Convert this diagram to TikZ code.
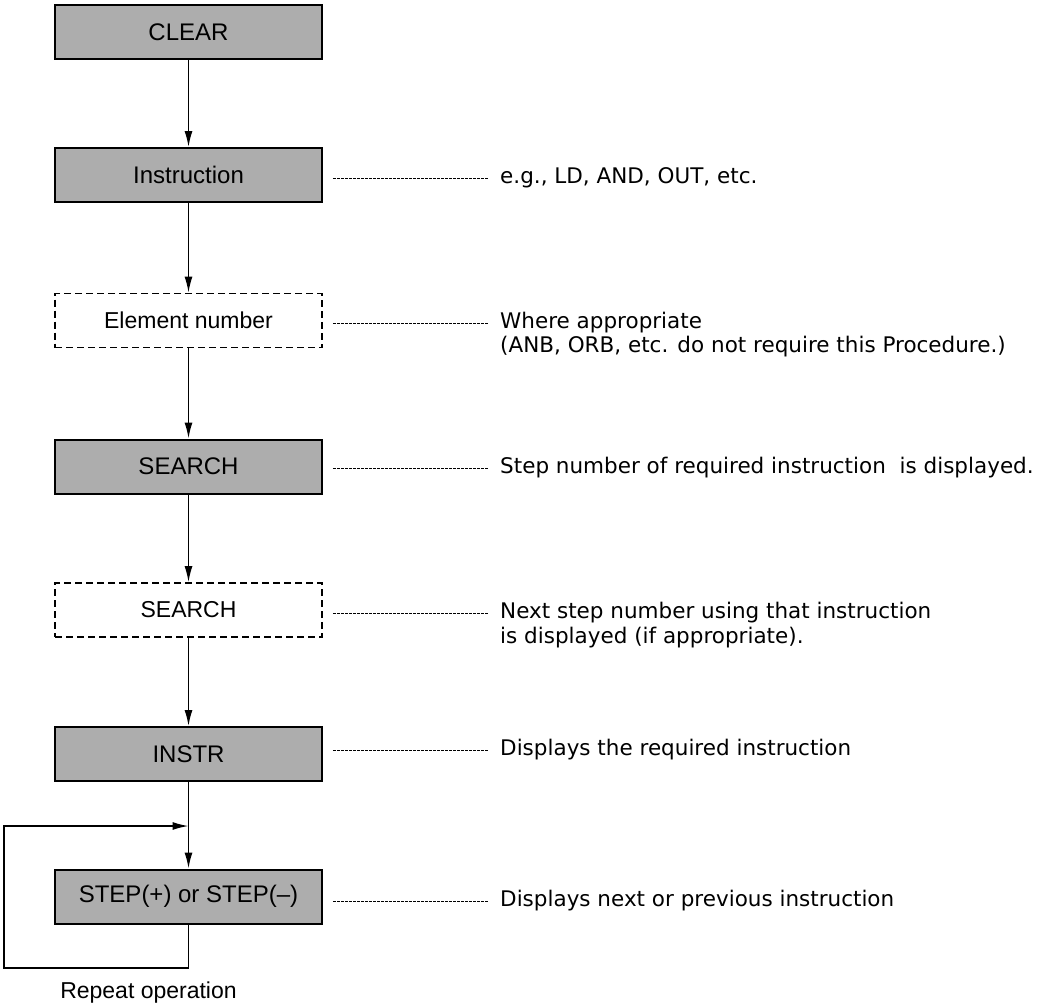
\documentclass[tikz,border=0pt]{standalone}
\usepackage{fontspec}
\setmainfont{Liberation Sans}
\newfontfamily\labfont{DejaVu Sans}
\usetikzlibrary{arrows.meta}
\begin{document}
\begin{tikzpicture}[x=1pt,y=-1pt,
  solidbox/.style={draw=black,line width=2pt,fill=black!32,minimum width=267pt,minimum height=54pt,inner sep=0pt,font=\fontsize{24}{28}\selectfont},
  dashbox/.style={draw=black,line width=1.7pt,dash pattern=on 7pt off 4pt,minimum width=267pt,minimum height=54pt,inner sep=0pt,font=\fontsize{23}{28}\selectfont},
  conn/.style={line width=1.5pt,-{Latex[length=16pt,width=8pt]}},
  leader/.style={line width=1pt,dash pattern=on 2.5pt off 1.5pt},
  lab/.style={anchor=west,inner sep=0pt,font=\labfont\fontsize{21.5}{25}\selectfont}]
\useasboundingbox (0,0) rectangle (1040,1006);
\node[solidbox] (clear) at (188.5,32.5) {CLEAR};
\node[solidbox] (instr1) at (188.5,175) {Instruction};
\node[dashbox] (elem) at (188.5,320.5) {Element number};
\node[solidbox] (search1) at (188.5,466.5) {SEARCH};
\node[dashbox] (search2) at (188.5,610) {SEARCH};
\node[solidbox] (instr2) at (188.5,754) {INSTR};
\node[solidbox] (stepb) at (188.5,896.5) {STEP(+) or STEP(--)};
\node[anchor=center,inner sep=0pt,font=\fontsize{23}{28}\selectfont] (rep) at (148.5,993) {Repeat operation};

\node[lab] (l1) at (500,178) {e.g., LD, AND, OUT, etc.};
\node[lab] (l2) at (500,323) {Where appropriate};
\node[lab] (l2b) at (500,347) {(ANB, ORB, etc. do not require this Procedure.)};
\node[lab] (l3) at (500,468) {Step number of required instruction\ \ is displayed.};
\node[lab] (l4) at (500,613) {Next step number using that instruction};
\node[lab] (l4b) at (500,638) {is displayed (if appropriate).};
\node[lab] (l5) at (500,750) {Displays the required instruction};
\node[lab] (l6) at (500,901) {Displays next or previous instruction};

\draw[conn] (clear) -- (instr1);
\draw[conn] (instr1) -- (elem);
\draw[conn] (elem) -- (search1);
\draw[conn] (search1) -- (search2);
\draw[conn] (search2) -- (instr2);
\draw[conn] (instr2) -- (stepb);
\coordinate (loopjoin) at (instr2.south |- 0,826);
\coordinate (loopcorner) at (4,968);
\draw[conn] (stepb.south) |- (loopcorner) |- (loopjoin);

\draw[leader] (333,178) -- ([xshift=-12pt]l1.west);
\draw[leader] (333,323) -- ([xshift=-12pt]l2.west);
\draw[leader] (333,468) -- ([xshift=-12pt]l3.west);
\draw[leader] (333,613) -- ([xshift=-12pt]l4.west);
\draw[leader] (333,750) -- ([xshift=-12pt]l5.west);
\draw[leader] (333,901) -- ([xshift=-12pt]l6.west);
\end{tikzpicture}
\end{document}
